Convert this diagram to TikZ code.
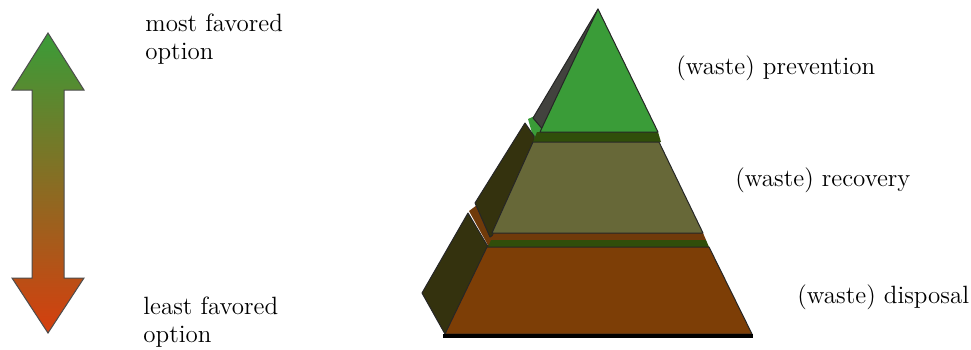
\documentclass[tikz,border=0pt]{standalone}
\definecolor{pyrGreen}{RGB}{58,156,56}
\definecolor{pyrOlive}{RGB}{103,104,56}
\definecolor{pyrBrown}{RGB}{125,62,6}
\definecolor{pyrSide}{RGB}{52,50,14}
\definecolor{pyrGrey}{RGB}{66,66,62}
\definecolor{pyrBand}{RGB}{48,78,10}
\definecolor{pyrRust}{RGB}{112,58,10}
\definecolor{arrowRed}{RGB}{214,62,14}
\usepackage{tikz}
\usetikzlibrary{positioning,calc}

\begin{document}
\begin{tikzpicture}[
  x=0.5pt, y=-0.5pt,
  face/.style={draw=black!85, line width=0.5pt, line join=round},
  txt/.style={font=\fontsize{12.5}{14.2}\selectfont, inner sep=0pt, align=left}
]
  \useasboundingbox (0,0) rectangle (971,349);

  % arrow on the left
  \shade[top color=pyrGreen, bottom color=arrowRed, draw=black!70, line width=0.5pt]
    (48,33) -- (84,90) -- (64,90) -- (64,278) -- (84,278) -- (48,333)
    -- (12,278) -- (32,278) -- (32,90) -- (12,90) -- cycle;
  \node[txt, anchor=north west] (most) at (145,13) {most favored\\option};
  \node[txt, anchor=north west] (least) at (143,296) {least favored\\option};

  % pyramid: side faces (drawn first, the fronts cover their inner edges)
  \fill[pyrGreen] (528,119) -- (537,115) -- (545,140) -- (534,140) -- cycle;
  \path[face, fill=pyrGrey] (598,9) -- (545,132) -- (533,118) -- cycle;
  \fill[pyrRust] (469,211) -- (477,205) -- (495,240) -- (489,247) -- cycle;
  \path[face, fill=pyrSide] (525,123) -- (534,136) -- (534,142) -- (496,233) -- (490,237) -- (475,203) -- cycle;
  \path[face, fill=pyrSide] (468,213) -- (487,245) -- (490,247) -- (449,334) -- (445,334) -- (422,293) -- cycle;

  % pyramid: bands between the levels
  \fill[pyrBand] (537,132) -- (658,132) -- (661,142) -- (533,142) -- cycle;
  \fill[pyrRust] (494,233) -- (703,233) -- (706,240) -- (491,240) -- cycle;
  \fill[pyrBand] (491,240) -- (706,240) -- (709,247) -- (488,247) -- cycle;

  % pyramid: front faces
  \path[face, fill=pyrGreen] (598,9) -- (658,132) -- (540,132) -- cycle;
  \path[face, fill=pyrOlive] (533,142) -- (659,142) -- (703,233) -- (492,233) -- cycle;
  \path[face, fill=pyrBrown] (487,247) -- (709,247) -- (752,334) -- (445,334) -- cycle;
  \draw[line width=1.6pt] (443,336) -- (753,336);

  % level labels
  \node[txt, anchor=west] (prevention) at (676,68) {(waste) prevention};
  \node[txt, anchor=west] (recovery) at (735,180) {(waste) recovery};
  \node[txt, anchor=west] (disposal) at (797,297) {(waste) disposal};
\end{tikzpicture}
\end{document}
